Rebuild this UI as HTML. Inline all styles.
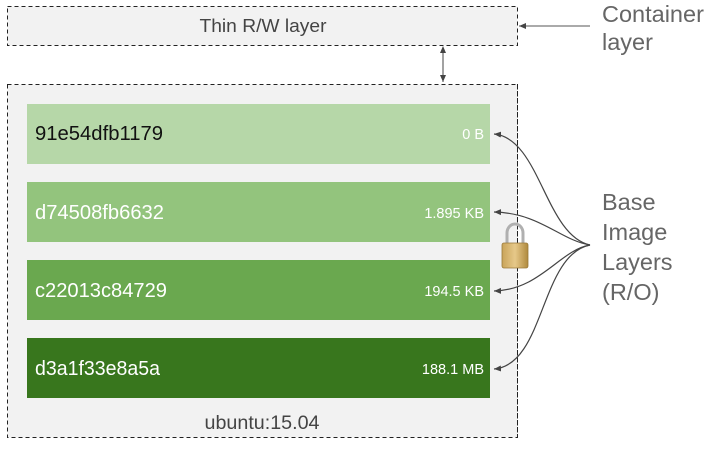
<!DOCTYPE html>
<html><head><meta charset="utf-8"><style>
html,body{margin:0;padding:0;background:#fff;}
svg{display:block;}
text{font-family:"Liberation Sans",sans-serif;}
</style></head><body>
<svg width="719" height="454" viewBox="0 0 719 454" xmlns="http://www.w3.org/2000/svg">
<defs>
<marker id="ah" markerWidth="8" markerHeight="8" refX="7" refY="4" orient="auto" markerUnits="userSpaceOnUse">
<path d="M0,1 L7,4 L0,7 Z" fill="#444"/></marker>
<marker id="ahs" markerWidth="8" markerHeight="8" refX="1" refY="4" orient="auto" markerUnits="userSpaceOnUse">
<path d="M7,1 L0,4 L7,7 Z" fill="#444"/></marker>
<linearGradient id="lk" x1="0" x2="1"><stop offset="0" stop-color="#c9a45a"/><stop offset="0.5" stop-color="#e6c889"/><stop offset="1" stop-color="#b08a3e"/></linearGradient>
</defs>
<rect x="7.5" y="6.5" width="510" height="39" fill="#f2f2f2" stroke="#222" stroke-dasharray="4,3"/>
<text x="263" y="32" font-size="18" fill="#444" text-anchor="middle" textLength="127" lengthAdjust="spacingAndGlyphs">Thin R/W layer</text>
<rect x="7.5" y="84.5" width="510" height="353" fill="#f2f2f2" stroke="#222" stroke-dasharray="4,3"/>
<line x1="443" y1="47" x2="443" y2="82" stroke="#444" marker-start="url(#ahs)" marker-end="url(#ah)"/>
<line x1="590" y1="26" x2="519" y2="26" stroke="#555" marker-end="url(#ah)"/>
<rect x="27" y="104" width="463" height="60" fill="#b6d7a8"/>
<rect x="27" y="182" width="463" height="60" fill="#93c47d"/>
<rect x="27" y="260" width="463" height="60" fill="#6aa84f"/>
<rect x="27" y="338" width="463" height="60" fill="#38761d"/>
<g font-size="20">
<text x="35" y="140" fill="#111" textLength="128" lengthAdjust="spacingAndGlyphs">91e54dfb1179</text>
<text x="35" y="219" fill="#fff" textLength="129" lengthAdjust="spacingAndGlyphs">d74508fb6632</text>
<text x="35" y="297" fill="#fff" textLength="132" lengthAdjust="spacingAndGlyphs">c22013c84729</text>
<text x="35" y="375" fill="#fff" textLength="125" lengthAdjust="spacingAndGlyphs">d3a1f33e8a5a</text>
</g>
<g font-size="14.5" fill="#fff" text-anchor="end">
<text x="484" y="139">0 B</text>
<text x="484" y="218">1.895 KB</text>
<text x="484" y="296">194.5 KB</text>
<text x="484" y="374">188.1 MB</text>
</g>
<text x="262" y="429" font-size="19.5" fill="#444" text-anchor="middle" textLength="115" lengthAdjust="spacingAndGlyphs">ubuntu:15.04</text>
<line x1="517.5" y1="84" x2="517.5" y2="437" stroke="#222" stroke-dasharray="4,3"/>
<g fill="none" stroke="#444" stroke-width="1.2">
<path d="M590,245 C545,235 540,138 494,134" marker-end="url(#ah)"/>
<path d="M590,245 C560,240 540,213 494,212" marker-end="url(#ah)"/>
<path d="M590,245 C560,250 540,290 494,291" marker-end="url(#ah)"/>
<path d="M590,245 C540,255 545,365 494,369" marker-end="url(#ah)"/>
</g>
<path d="M507,244 V233 a8,9 0 0 1 16,0 V244" fill="none" stroke="#b0b0b0" stroke-width="3"/>
<rect x="502" y="243" width="26" height="25" rx="2" fill="url(#lk)" stroke="#9a7a3a" stroke-width="0.8"/>
<g font-size="23.5" fill="#666">
<text x="602" y="22">Container</text>
<text x="602" y="50">layer</text>
<text x="602" y="210">Base</text>
<text x="602" y="240">Image</text>
<text x="602" y="270">Layers</text>
<text x="602" y="300">(R/O)</text>
</g>
</svg>
</body></html>
